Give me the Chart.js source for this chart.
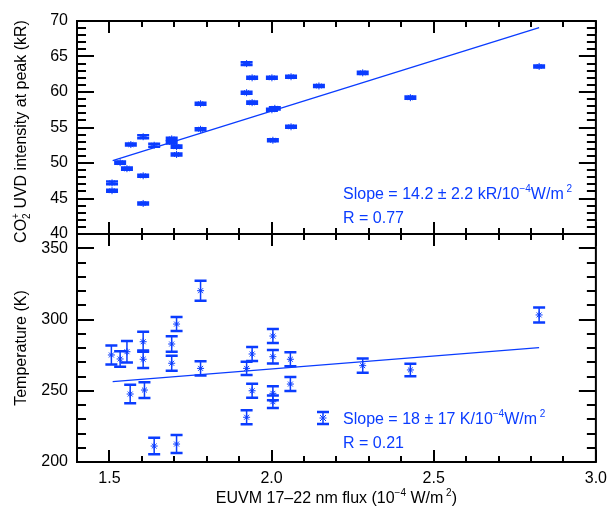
<!DOCTYPE html>
<html>
<head>
<meta charset="utf-8">
<script src="https://cdn.jsdelivr.net/npm/chart.js@4/dist/chart.umd.min.js"></script>
<style>
  html, body { margin: 0; padding: 0; background: #fff; }
</style>
</head>
<body>
<canvas id="chart" width="614" height="514"></canvas>
<script>
// top panel: CO2+ UVD intensity at peak (kR)
const fluxTop = [1.508, 1.508, 1.533, 1.554, 1.566, 1.604, 1.604, 1.604, 1.638, 1.692, 1.692, 1.707, 1.707,
                 1.781, 1.781, 1.923, 1.923, 1.940, 1.940, 2.001, 2.001, 2.010, 2.004, 2.060, 2.060, 2.146,
                 2.281, 2.428, 2.825];
const uvd = [47.2, 46.1, 50.05, 49.2, 52.6, 53.7, 48.2, 44.3, 52.5, 53.4, 52.9, 52.3, 51.2,
             58.35, 54.75, 64.0, 59.9, 62.0, 58.5, 62.0, 57.5, 57.7, 53.2, 62.15, 55.1, 60.85,
             62.7, 59.2, 63.6];
const uvdErr = [0.2, 0.15, 0.15, 0.15, 0.15, 0.2, 0.15, 0.15, 0.2, 0.15, 0.15, 0.15, 0.15,
                0.15, 0.15, 0.2, 0.15, 0.15, 0.15, 0.15, 0.15, 0.15, 0.15, 0.15, 0.15, 0.15,
                0.15, 0.15, 0.15];

// bottom panel: temperature (K)
const fluxBot = [1.506, 1.533, 1.554, 1.564, 1.604, 1.604, 1.608, 1.638, 1.692, 1.692, 1.707, 1.707,
                 1.781, 1.781, 1.923, 1.923, 1.940, 1.940, 2.004, 2.004, 2.004, 2.004, 2.058, 2.058,
                 2.281, 2.428, 2.825];
const temp = [275.1, 272.3, 277.4, 247.7, 284.4, 272.1, 250.5, 211.2, 282.8, 269.3, 296.8, 212.6,
              320.2, 265.7, 265.7, 231.4, 275.8, 250.0, 288.4, 273.9, 248.2, 242.3, 272.1, 254.7,
              267.6, 264.6, 303.2];
const tempErr = [6.7, 5.4, 7.5, 6.5, 7.0, 6.2, 5.5, 5.8, 5.5, 5.3, 4.9, 6.3,
                 7.0, 5.0, 4.7, 4.9, 4.9, 4.9, 4.9, 4.7, 4.9, 4.4, 4.9, 4.9,
                 5.0, 4.4, 5.3];

// linear fits
const fitX = [1.51, 2.825];
const uvdFit = [50.33, 69.06];
const tempFit = [256.4, 280.2];

const xTicks = [1.5, 2.0, 2.5, 3.0];
const uvdTicks = [40, 45, 50, 55, 60, 65, 70];
const tempTicks = [200, 250, 300, 350];

const blue = '#0a3cff';
const fontFamily = '"Liberation Sans", Arial, Helvetica, sans-serif';

const pts = (xs, ys) => xs.map((x, i) => ({ x: x, y: ys[i] }));

function richWidth(ctx, parts, size) {
    let w = 0;
    parts.forEach(p => {
        if (p[1] === 'n') {
            ctx.font = size + 'px ' + fontFamily;
            w += ctx.measureText(p[0]).width;
        } else if (p[1] === 'subsup') {
            ctx.font = Math.round(size * 0.65) + 'px ' + fontFamily;
            w += Math.max(ctx.measureText(p[0]).width, ctx.measureText(p[2]).width);
        } else {
            ctx.font = Math.round(size * 0.65) + 'px ' + fontFamily;
            w += ctx.measureText(p[0]).width;
        }
    });
    return w;
}

// text pieces with super/subscripts
function richText(ctx, parts, x, y, size, align) {
    const total = richWidth(ctx, parts, size);
    let cx = align === 'center' ? x - total / 2 : x;
    ctx.textAlign = 'left';
    ctx.textBaseline = 'alphabetic';
    const small = Math.round(size * 0.65);
    parts.forEach(p => {
        if (p[1] === 'n') {
            ctx.font = size + 'px ' + fontFamily;
            ctx.fillText(p[0], cx, y);
            cx += ctx.measureText(p[0]).width;
        } else if (p[1] === 'sup') {
            ctx.font = small + 'px ' + fontFamily;
            ctx.fillText(p[0], cx, y - size * 0.45);
            cx += ctx.measureText(p[0]).width;
        } else if (p[1] === 'sub') {
            ctx.font = small + 'px ' + fontFamily;
            ctx.fillText(p[0], cx, y + size * 0.25);
            cx += ctx.measureText(p[0]).width;
        } else {
            ctx.font = small + 'px ' + fontFamily;
            ctx.fillText(p[0], cx, y + size * 0.25);
            ctx.fillText(p[2], cx, y - size * 0.45);
            cx += Math.max(ctx.measureText(p[0]).width, ctx.measureText(p[2]).width);
        }
    });
}

function drawErrorBar(ctx, x, yHi, yLo, capW) {
    ctx.beginPath();
    ctx.lineWidth = 1.5;
    ctx.moveTo(x, yHi);
    ctx.lineTo(x, yLo);
    ctx.stroke();
    ctx.beginPath();
    ctx.lineWidth = 2.5;
    ctx.moveTo(x - capW / 2, yHi);
    ctx.lineTo(x + capW / 2, yHi);
    ctx.moveTo(x - capW / 2, yLo);
    ctx.lineTo(x + capW / 2, yLo);
    ctx.stroke();
}

const errorBars = {
    id: 'errorBars',
    afterDatasetsDraw(chart) {
        const ctx = chart.ctx;
        ctx.save();
        ctx.strokeStyle = blue;
        chart.data.datasets.forEach((ds, di) => {
            if (!ds.errors) return;
            const meta = chart.getDatasetMeta(di);
            const ys = chart.scales[ds.yAxisID];
            ds.data.forEach((d, i) => {
                const px = meta.data[i].x;
                drawErrorBar(ctx, px, ys.getPixelForValue(d.y + ds.errors[i]),
                             ys.getPixelForValue(d.y - ds.errors[i]), 12);
            });
        });
        ctx.restore();
    }
};

const frames = {
    id: 'frames',
    afterDraw(chart) {
        const ctx = chart.ctx;
        const xs = chart.scales.x;
        const left = chart.chartArea.left, right = chart.chartArea.right;
        ctx.save();
        ctx.strokeStyle = '#000';
        ctx.lineWidth = 2;
        [['yTop', 1, 5], ['yBot', 10, 50]].forEach(([id, minor, major]) => {
            const ys = chart.scales[id];
            const top = ys.top, bottom = ys.bottom;
            ctx.strokeRect(left, top, right - left, bottom - top);
            ctx.beginPath();
            // y ticks, inward on both sides
            const n = Math.round((ys.max - ys.min) / minor);
            for (let k = 0; k <= n; k++) {
                const v = ys.min + k * minor;
                const len = (Math.abs(v / major - Math.round(v / major)) < 1e-6) ? 17 : 9;
                const py = Math.round(ys.getPixelForValue(v));
                ctx.moveTo(left, py); ctx.lineTo(left + len, py);
                ctx.moveTo(right, py); ctx.lineTo(right - len, py);
            }
            // x ticks, inward top and bottom
            for (let k = 0; k <= 16; k++) {
                const v = xs.min + k * 0.1;
                const len = (Math.abs(v * 2 - Math.round(v * 2)) < 1e-6) ? 12 : 6;
                const px = Math.round(xs.getPixelForValue(v));
                ctx.moveTo(px, top); ctx.lineTo(px, top + len);
                ctx.moveTo(px, bottom); ctx.lineTo(px, bottom - len);
            }
            ctx.stroke();
        });

        // axis titles
        ctx.fillStyle = '#000';
        richText(ctx, [['EUVM 17\u201322 nm flux (10', 'n'], ['\u22124', 'sup'], [' W/m', 'n'], [' 2', 'sup'], [')', 'n']],
                 (left + right) / 2, 503, 16, 'center');
        const yt = chart.scales.yTop, yb = chart.scales.yBot;
        ctx.save();
        ctx.translate(26, (yt.top + yt.bottom) / 2 + 4);
        ctx.rotate(-Math.PI / 2);
        richText(ctx, [['CO', 'n'], ['2', 'subsup', '+'], [' UVD intensity at peak (kR)', 'n']], 0, 0, 16, 'center');
        ctx.restore();
        ctx.save();
        ctx.translate(26, (yb.top + yb.bottom) / 2);
        ctx.rotate(-Math.PI / 2);
        richText(ctx, [['Temperature (K)', 'n']], 0, 0, 16, 'center');
        ctx.restore();

        // fit annotations
        ctx.fillStyle = blue;
        richText(ctx, [['Slope = 14.2 \u00b1 2.2 kR/10', 'n'], ['\u22124', 'sup'], ['W/m', 'n'], [' 2', 'sup']],
                 left + 266, yt.bottom - 35, 16, 'left');
        richText(ctx, [['R = 0.77', 'n']], left + 266, yt.bottom - 11, 16, 'left');
        richText(ctx, [['Slope = 18 \u00b1 17 K/10', 'n'], ['\u22124', 'sup'], ['W/m', 'n'], [' 2', 'sup']],
                 left + 266, yb.bottom - 38, 16, 'left');
        richText(ctx, [['R = 0.21', 'n']], left + 266, yb.bottom - 14, 16, 'left');

        // legend symbol next to the bottom annotation
        const sx = left + 246, sy = yb.bottom - 44;
        ctx.strokeStyle = blue;
        drawErrorBar(ctx, sx, sy - 6, sy + 6, 12);
        ctx.lineWidth = 1;
        ctx.beginPath();
        ctx.moveTo(sx - 3, sy - 3); ctx.lineTo(sx + 3, sy + 3);
        ctx.moveTo(sx - 3, sy + 3); ctx.lineTo(sx + 3, sy - 3);
        ctx.moveTo(sx - 3.5, sy); ctx.lineTo(sx + 3.5, sy);
        ctx.stroke();
        ctx.restore();
    }
};

const tickFont = { family: fontFamily, size: 16 };

const markerStyle = {
    pointStyle: 'star',
    pointRadius: 3.5,
    pointBorderWidth: 1,
    borderColor: blue,
    backgroundColor: blue,
    showLine: false
};
const fitStyle = {
    showLine: true,
    pointRadius: 0,
    borderColor: blue,
    borderWidth: 1.3,
    backgroundColor: blue
};

new Chart(document.getElementById('chart'), {
    type: 'scatter',
    data: {
        datasets: [
            Object.assign({ data: pts(fluxTop, uvd), yAxisID: 'yTop', errors: uvdErr }, markerStyle),
            Object.assign({ data: pts(fitX, uvdFit), yAxisID: 'yTop' }, fitStyle),
            Object.assign({ data: pts(fluxBot, temp), yAxisID: 'yBot', errors: tempErr }, markerStyle),
            Object.assign({ data: pts(fitX, tempFit), yAxisID: 'yBot' }, fitStyle)
        ]
    },
    options: {
        responsive: false,
        animation: false,
        layout: { padding: { top: 21, right: 12, left: 0, bottom: 0 } },
        plugins: { legend: { display: false }, tooltip: { enabled: false } },
        scales: {
            x: {
                type: 'linear', min: 1.4, max: 3.0,
                grid: { display: false, drawTicks: false },
                border: { display: false },
                afterBuildTicks: s => { s.ticks = xTicks.map(v => ({ value: v })); },
                afterFit: s => { s.height = 52; },
                ticks: { font: tickFont, color: '#000', padding: 7, maxRotation: 0, autoSkip: false,
                         callback: v => v.toFixed(1) }
            },
            yBot: {
                type: 'linear', position: 'left', stack: 'panels', stackWeight: 228,
                min: 200, max: 360,
                grid: { display: false, drawTicks: false },
                border: { display: false },
                afterBuildTicks: s => { s.ticks = tempTicks.map(v => ({ value: v })); },
                afterFit: s => { s.width = 77; },
                ticks: { font: tickFont, color: '#000', padding: 9, autoSkip: false }
            },
            yTop: {
                type: 'linear', position: 'left', stack: 'panels', stackWeight: 213,
                min: 40, max: 70,
                grid: { display: false, drawTicks: false },
                border: { display: false },
                afterBuildTicks: s => { s.ticks = uvdTicks.map(v => ({ value: v })); },
                afterFit: s => { s.width = 77; },
                ticks: { font: tickFont, color: '#000', padding: 9, autoSkip: false }
            }
        }
    },
    plugins: [errorBars, frames]
});
</script>
</body>
</html>
